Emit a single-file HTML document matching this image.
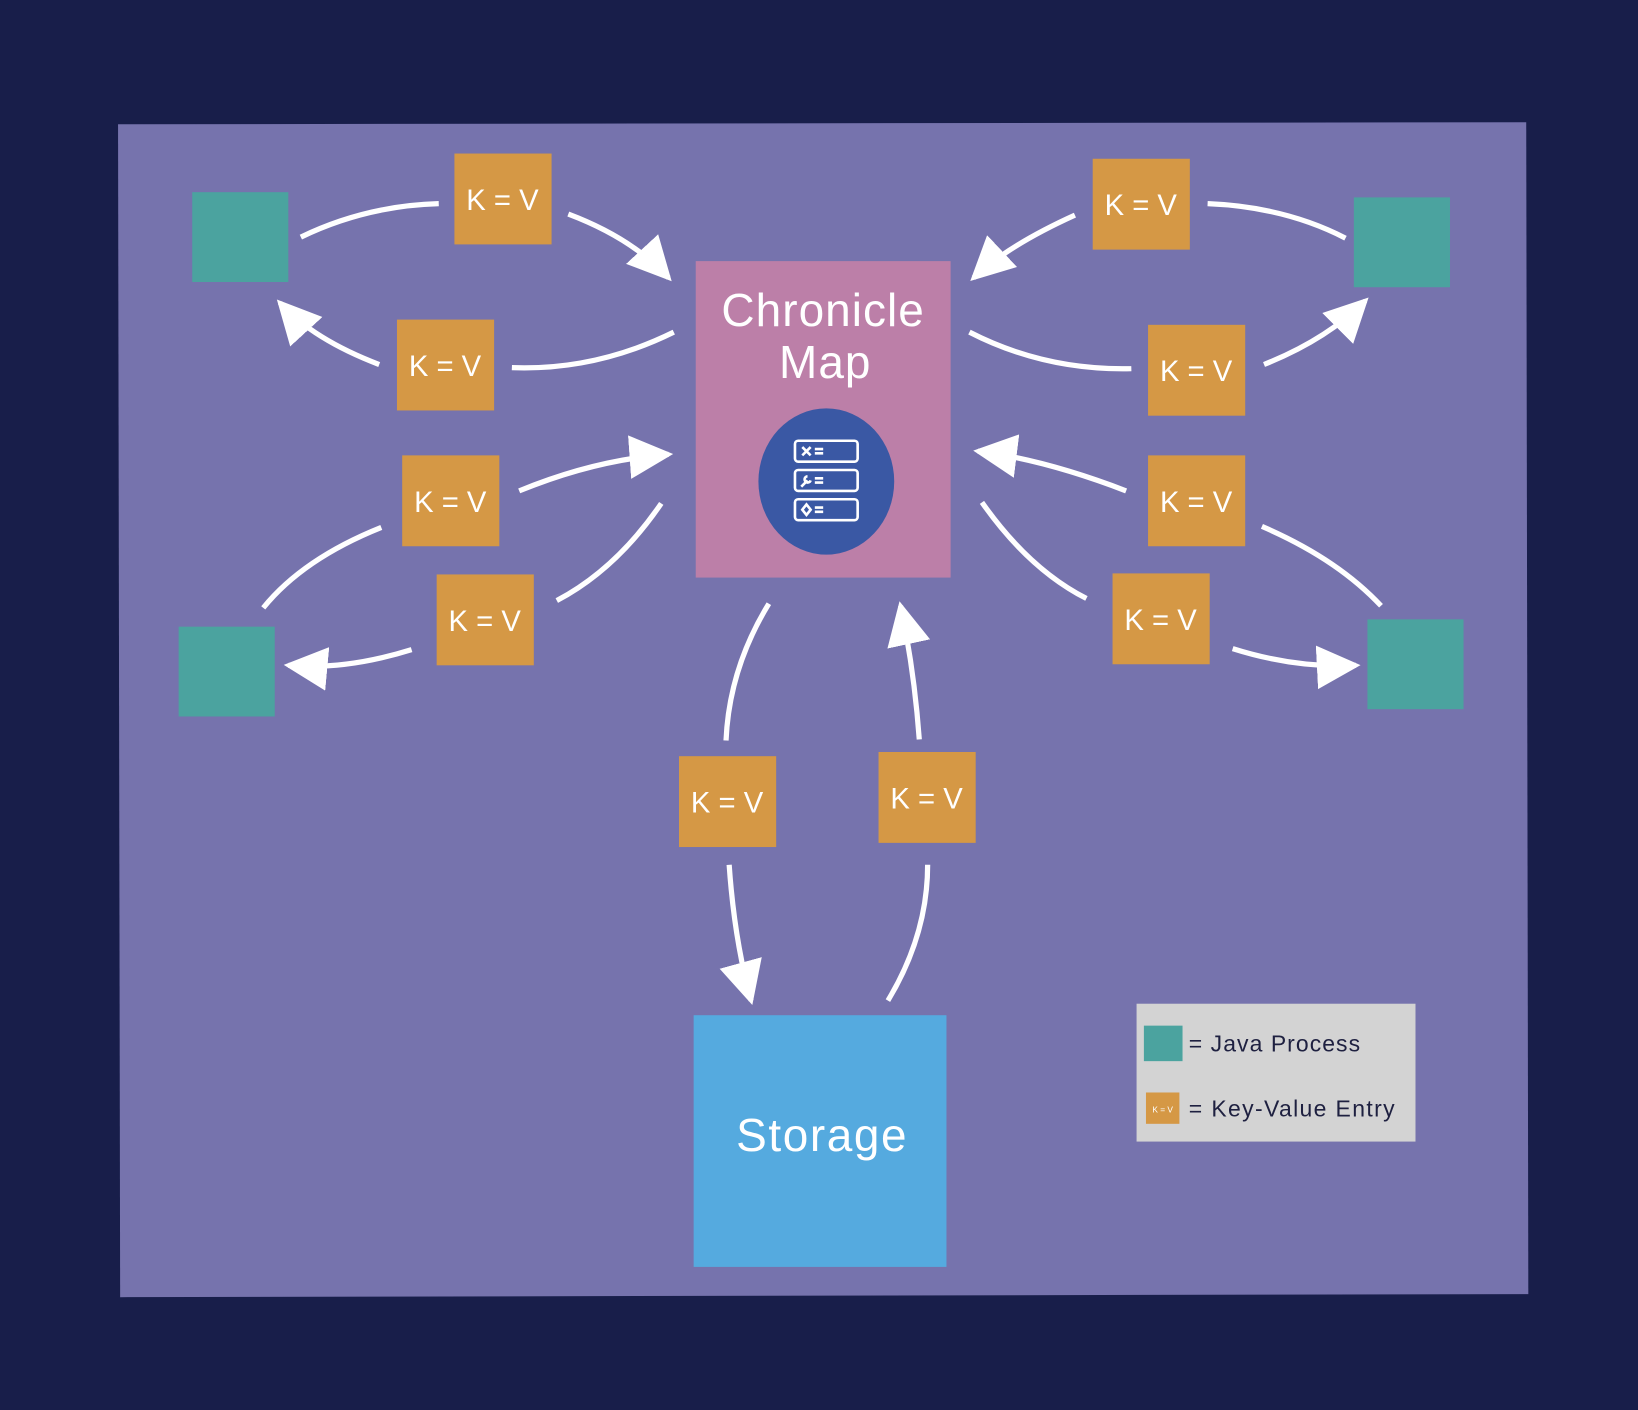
<!DOCTYPE html>
<html><head><style>html,body{margin:0;padding:0;background:#181e4a}svg{display:block}</style></head>
<body>
<svg width="1638" height="1410" viewBox="0 0 1568 1350" preserveAspectRatio="none" xmlns="http://www.w3.org/2000/svg" font-family="Liberation Sans, sans-serif">
<defs>
<marker id="ah" markerUnits="userSpaceOnUse" markerWidth="44" markerHeight="44" refX="34" refY="20" orient="auto" viewBox="0 0 40 40">
<path d="M0,1 L38,20 L0,39 Z" fill="#fff"/>
</marker>
</defs>
<rect width="1568" height="1350" fill="#181e4a"/>
<polygon points="113,119 1461,117 1463,1239 115,1242" fill="#7673ad"/>
<g fill="#4ba39f">
<rect x="184" y="184" width="92" height="86"/>
<rect x="1296" y="189" width="92" height="86"/>
<rect x="171" y="600" width="92" height="86"/>
<rect x="1309" y="593" width="92" height="86"/>
</g>
<rect x="666" y="250" width="244" height="303" fill="#bc7fa8"/>
<text x="788" y="312" font-size="44" fill="#fff" text-anchor="middle" letter-spacing="1">Chronicle</text>
<text x="790" y="362" font-size="44" fill="#fff" text-anchor="middle" letter-spacing="1">Map</text>
<ellipse cx="791" cy="461" rx="65" ry="70" fill="#3a58a4"/>
<g fill="none" stroke="#fff" stroke-width="2.5">
<rect x="761" y="422" width="60" height="20" rx="3"/>
<rect x="761" y="450" width="60" height="20" rx="3"/>
<rect x="761" y="478" width="60" height="20" rx="3"/>
<path d="M768,428 l8,8 M776,428 l-8,8 M780,430 h8 M780,434 h8 M780,458 h8 M780,462 h8 M780,486 h8 M780,490 h8"/>
<path d="M767,466 l6,-6 M773,456 a3,3 0 1 0 3,4"/>
<path d="M772,483 l4,5 l-4,5 l-4,-5 z"/>
</g>
<rect x="664" y="972" width="242" height="241" fill="#55aadf"/>
<text x="787" y="1102" font-size="44" fill="#fff" text-anchor="middle" letter-spacing="1.5">Storage</text>
<g fill="#d59845">
<rect x="435" y="147" width="93" height="87"/>
<rect x="1046" y="152" width="93" height="87"/>
<rect x="380" y="306" width="93" height="87"/>
<rect x="1099" y="311" width="93" height="87"/>
<rect x="385" y="436" width="93" height="87"/>
<rect x="1099" y="436" width="93" height="87"/>
<rect x="418" y="550" width="93" height="87"/>
<rect x="1065" y="549" width="93" height="87"/>
<rect x="650" y="724" width="93" height="87"/>
<rect x="841" y="720" width="93" height="87"/>
</g>
<g fill="#fff" font-size="28" text-anchor="middle">
<text x="481" y="201">K = V</text>
<text x="1092" y="206">K = V</text>
<text x="426" y="360">K = V</text>
<text x="1145" y="365">K = V</text>
<text x="431" y="490">K = V</text>
<text x="1145" y="490">K = V</text>
<text x="464" y="604">K = V</text>
<text x="1111" y="603">K = V</text>
<text x="696" y="778">K = V</text>
<text x="887" y="774">K = V</text>
</g>
<g fill="none" stroke="#fff" stroke-width="5">
<path d="M288,227 Q350,197 420,195"/>
<path d="M544,205 Q605,228 640,266" marker-end="url(#ah)"/>
<path d="M645,318 Q570,355 490,352"/>
<path d="M363,349 Q300,325 268,290" marker-end="url(#ah)"/>
<path d="M497,470 Q570,440 640,435" marker-end="url(#ah)"/>
<path d="M365,505 Q290,535 252,582"/>
<path d="M633,482 Q590,545 533,575"/>
<path d="M394,622 Q330,642 276,637" marker-end="url(#ah)"/>
<path d="M1288,228 Q1230,198 1156,195"/>
<path d="M1029,206 Q965,235 932,266" marker-end="url(#ah)"/>
<path d="M928,318 Q1000,355 1083,353"/>
<path d="M1210,349 Q1270,325 1307,288" marker-end="url(#ah)"/>
<path d="M1078,470 Q1000,440 936,432" marker-end="url(#ah)"/>
<path d="M1208,504 Q1280,535 1322,580"/>
<path d="M940,481 Q985,545 1040,573"/>
<path d="M1180,621 Q1240,640 1298,637" marker-end="url(#ah)"/>
<path d="M736,578 Q698,640 695,709"/>
<path d="M698,828 Q703,900 719,958" marker-end="url(#ah)"/>
<path d="M880,708 Q875,640 862,580" marker-end="url(#ah)"/>
<path d="M888,828 Q888,895 850,958"/>
</g>
<rect x="1088" y="961" width="267" height="132" fill="#d3d3d3"/>
<rect x="1095" y="982" width="37" height="34" fill="#4ba39f"/>
<text x="1138" y="1007" font-size="22" fill="#1e2040" letter-spacing="1">= Java Process</text>
<rect x="1097" y="1046" width="32" height="30" fill="#d59845"/>
<text x="1113" y="1065" font-size="8" fill="#fff" text-anchor="middle">K = V</text>
<text x="1138" y="1069" font-size="22" fill="#1e2040" letter-spacing="1.3">= Key-Value Entry</text>
</svg>
</body></html>
